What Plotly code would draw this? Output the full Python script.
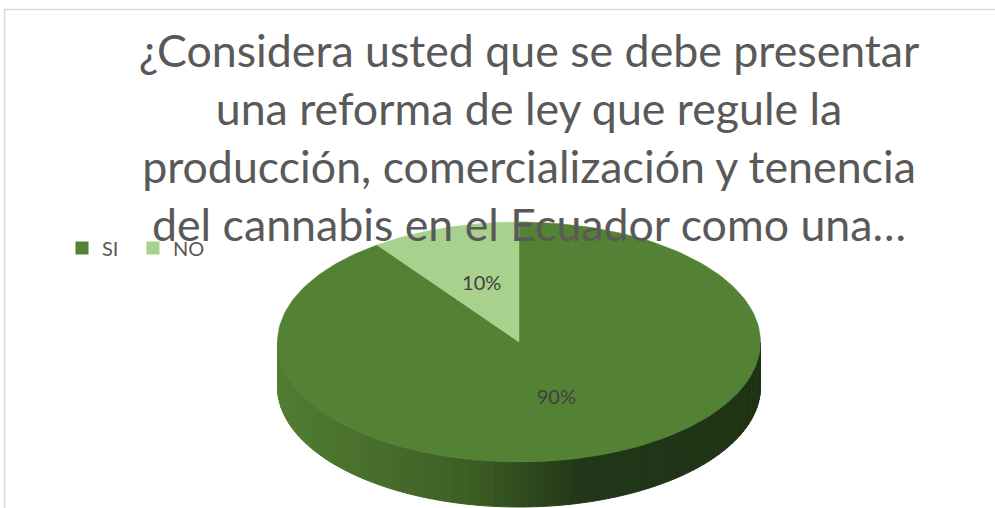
import numpy as np
import plotly.graph_objects as go

# ---- data ----
categories = ["SI", "NO"]
values = [90, 10]
slice_colors = ["#548235", "#A9D18E"]
title_lines = [
    "¿Considera usted que se debe presentar",
    "una reforma de ley que regule la",
    "producción, comercialización y tenencia",
    "del cannabis en el Ecuador como una…",
]

# ---- geometry of the 3D pie (pixel space) ----
W, H = 995, 508
CX, CY = 519, 342
RX, RY = 241.5, 120
DEPTH = 45


def pt(theta_deg, drop=0.0):
    t = np.radians(theta_deg)
    return CX + RX * np.sin(t), CY - RY * np.cos(t) + drop


def hex2rgb(h):
    h = h.lstrip("#")
    return np.array([int(h[i:i + 2], 16) for i in (0, 2, 4)], dtype=float)


grad_stops = [(0.0, "#507d32"), (0.25, "#466a2b"), (0.4, "#3c5e25"),
              (0.55, "#2b441b"), (0.62, "#22371a"), (1.0, "#1f3314")]


def grad(f):
    for (f0, c0), (f1, c1) in zip(grad_stops[:-1], grad_stops[1:]):
        if f <= f1:
            a = (f - f0) / (f1 - f0) if f1 > f0 else 0
            c = hex2rgb(c0) * (1 - a) + hex2rgb(c1) * a
            return "rgb(%d,%d,%d)" % tuple(c.round())
    c = hex2rgb(grad_stops[-1][1])
    return "rgb(%d,%d,%d)" % tuple(c)


fig = go.Figure()

# side wall (front half: theta 90..270 clockwise from top)
total = sum(values)
bounds = np.cumsum([0] + values) / total * 360.0
N = 90
th = np.linspace(90, 270, N + 1)
for i in range(N):
    a0, a1 = th[i], th[i + 1]
    ts = np.linspace(a0, a1, 4)
    xs_top, ys_top = pt(ts)
    xs_bot, ys_bot = pt(ts[::-1], DEPTH)
    xs = np.concatenate([xs_top, xs_bot, xs_top[:1]])
    ys = np.concatenate([ys_top, ys_bot, ys_top[:1]])
    xm = pt((a0 + a1) / 2)[0]
    f = (xm - (CX - RX)) / (2 * RX)
    col = grad(f)
    fig.add_trace(go.Scatter(x=xs, y=ys, mode="lines", fill="toself", fillcolor=col,
                             line=dict(color=col, width=1), hoverinfo="skip", showlegend=False))

# top faces
for name, v, c, a0, a1 in zip(categories, values, slice_colors, bounds[:-1], bounds[1:]):
    ts = np.linspace(a0, a1, 200)
    ex, ey = pt(ts)
    xs = np.concatenate([[CX], ex, [CX]])
    ys = np.concatenate([[CY], ey, [CY]])
    fig.add_trace(go.Scatter(x=xs, y=ys, mode="lines", fill="toself", fillcolor=c,
                             line=dict(color=c, width=0.5), hoverinfo="skip", showlegend=False))

# data labels
lx, ly, lt = [], [], []
for v, a0, a1 in zip(values, bounds[:-1], bounds[1:]):
    mid = (a0 + a1) / 2
    t = np.radians(mid)
    lx.append(CX + 0.5 * RX * np.sin(t))
    ly.append(CY - 0.5 * RY * np.cos(t))
    lt.append(f"{v / total * 100:.0f}%")
fig.add_trace(go.Scatter(x=lx, y=ly, mode="text", text=lt,
                         textfont=dict(family="Lato, Open Sans, sans-serif", size=20, color="#404040"),
                         hoverinfo="skip", showlegend=False))

# legend entries (one small legend box per category, laid out side by side)
legend_ids = ["legend", "legend2"]
for name, c, lid in zip(categories, slice_colors, legend_ids):
    fig.add_trace(go.Scatter(x=[None], y=[None], mode="markers", name=name, legend=lid,
                             marker=dict(symbol="square", size=13, color=c)))

legend_style = dict(orientation="h", xanchor="left", y=1 - 248 / H, yanchor="middle",
                    font=dict(family="Lato, Open Sans, sans-serif", size=20, color="#595959"),
                    itemwidth=30, bgcolor="rgba(0,0,0,0)")

fig.update_layout(
    width=W, height=H,
    margin=dict(l=0, r=0, t=0, b=0),
    paper_bgcolor="white", plot_bgcolor="white",
    xaxis=dict(range=[0, W], visible=False, fixedrange=True),
    yaxis=dict(range=[H, 0], visible=False, fixedrange=True),
    title=dict(text="<br>".join(title_lines), x=529 / W, xanchor="center",
               y=1 - 67 / H, yanchor="top",
               font=dict(family="Lato, Open Sans, sans-serif", size=44.7, color="#595959")),
    legend=dict(x=62 / W, **legend_style),
    legend2=dict(x=133 / W, **legend_style),
    shapes=[dict(type="rect", xref="paper", yref="paper",
                 x0=4.5 / W, x1=1.2, y0=-0.2, y1=1 - 9.5 / H,
                 line=dict(color="#d9d9d9", width=1.5), fillcolor="rgba(0,0,0,0)", layer="above")],
)

fig.write_html("out.html", config={"displayModeBar": False},
               post_script="document.body.style.margin='0';")
